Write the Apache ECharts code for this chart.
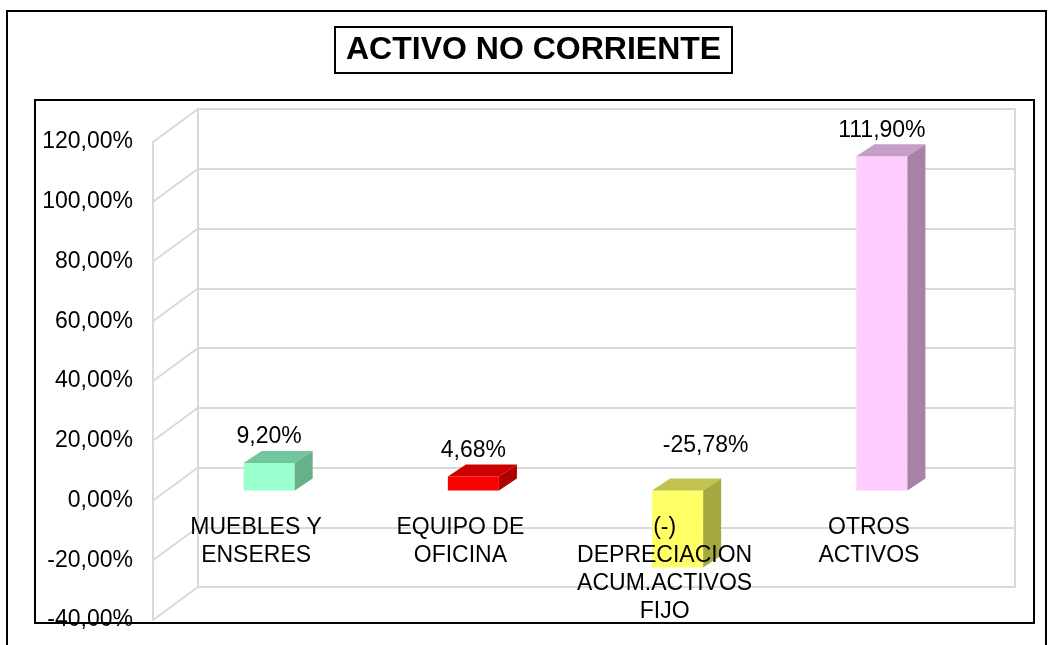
<!DOCTYPE html>
<html>
<head>
<meta charset="utf-8">
<script src="https://cdn.jsdelivr.net/npm/echarts@6/dist/echarts.min.js"></script>
<style>
html,body{margin:0;padding:0;background:#fff;}
#chart{width:1051px;height:645px;}
</style>
</head>
<body>
<div id="chart"></div>
<script>
// ---- data ----
const titleText = 'ACTIVO NO CORRIENTE';
const categories = ['MUEBLES Y\nENSERES', 'EQUIPO DE\nOFICINA', '(-)\nDEPRECIACION\nACUM.ACTIVOS\nFIJO', 'OTROS\nACTIVOS'];
const values = [9.20, 4.68, -25.78, 111.90];
const yTicks = [-40, -20, 0, 20, 40, 60, 80, 100, 120];

// ---- styles ----
const FONT = "'Liberation Sans', Arial, sans-serif";
const LABEL_SIZE = 23;
const frontColors = ['#99FFCC', '#FF0000', '#FFFF66', '#FFCCFF'];
const topColors   = ['#70C79C', '#CC0000', '#C2C24E', '#C69DC6'];
const sideColors  = ['#66B08A', '#B00000', '#A8A840', '#A882A6'];
const GRID_COLOR = '#D9D9D9';
const DEPTH_X = 18, DEPTH_Y = -12;

function pct(v) { return v.toFixed(2).replace('.', ',') + '%'; }

const chart = echarts.init(document.getElementById('chart'), null, {renderer: 'canvas'});

const yMin = yTicks[0], yMax = yTicks[yTicks.length - 1], yStep = yTicks[1] - yTicks[0];
const PLANE_H = 478;
const zeroOffset = -PLANE_H * (0 - yMin) / (yMax - yMin); // lift category axis to the zero level

const option = {
  animation: false,
  backgroundColor: '#fff',
  title: {
    text: titleText,
    left: 335, top: 27,
    borderColor: '#000', borderWidth: 2,
    padding: [4, 11],
    textStyle: {fontSize: 32, fontWeight: 'bold', fontFamily: FONT, color: '#000', lineHeight: 38}
  },
  graphic: [
    {type: 'rect', shape: {x: 7, y: 11, width: 1039, height: 700}, style: {fill: 'none', stroke: '#000', lineWidth: 2}, silent: true, z: -10},
    {type: 'rect', shape: {x: 35, y: 100, width: 999, height: 523}, style: {fill: 'none', stroke: '#000', lineWidth: 2}, silent: true, z: -10}
  ],
  grid: [
    // 0: side wall front edge (labels)
    {left: 153, top: 142, width: 45, height: PLANE_H, outerBoundsMode: 'none', containLabel: false},
    // 1: back wall
    {left: 198, top: 109, width: 817, height: PLANE_H, show: true, borderColor: GRID_COLOR, borderWidth: 2, outerBoundsMode: 'none', containLabel: false},
    // 2: bars front plane
    {left: 167, top: 132, width: 817, height: PLANE_H, outerBoundsMode: 'none', containLabel: false}
  ],
  xAxis: [
    {gridIndex: 0, type: 'value', min: 0, max: 1, show: false},
    {gridIndex: 1, type: 'category', data: categories, show: false},
    {gridIndex: 2, type: 'category', data: categories, z: 10, position: 'bottom', offset: zeroOffset,
      axisLine: {show: false, onZero: false}, axisTick: {show: false},
      axisLabel: {interval: 0, margin: 23, fontSize: LABEL_SIZE, lineHeight: 28, color: '#000', fontFamily: FONT, padding: [0, 26, 0, 0]}}
  ],
  yAxis: [
    {gridIndex: 0, type: 'value', min: yMin, max: yMax, interval: yStep,
      axisLine: {show: true, lineStyle: {color: GRID_COLOR, width: 2}}, axisTick: {show: false},
      splitLine: {show: false},
      axisLabel: {margin: 20, fontSize: LABEL_SIZE, color: '#000', fontFamily: FONT, formatter: pct}},
    {gridIndex: 1, type: 'value', min: yMin, max: yMax, interval: yStep,
      axisLine: {show: false}, axisTick: {show: false}, axisLabel: {show: false},
      splitLine: {show: true, lineStyle: {color: GRID_COLOR, width: 2}}},
    {gridIndex: 2, type: 'value', min: yMin, max: yMax, interval: yStep,
      axisLine: {show: false}, axisTick: {show: false}, axisLabel: {show: false}, splitLine: {show: false}}
  ],
  series: [
    {
      type: 'custom', xAxisIndex: 0, yAxisIndex: 0, silent: true, z: 1,
      data: yTicks.map(v => [0, v]),
      renderItem: function (params, api) {
        const v = api.value(1);
        const a = api.coord([0, v]);
        const b = api.coord([1, v]);
        return {type: 'line', shape: {x1: a[0], y1: a[1], x2: b[0], y2: b[1] - 33},
          style: {stroke: GRID_COLOR, lineWidth: 2}};
      }
    },
    {
      type: 'custom', xAxisIndex: 2, yAxisIndex: 2, silent: true, z: 3,
      data: values.map((v, i) => [i, v]),
      encode: {x: 0, y: 1},
      renderItem: function (params, api) {
        const i = api.value(0), v = api.value(1);
        const p0 = api.coord([i, 0]);
        const p1 = api.coord([i, v]);
        const w = api.size([1, 0])[0] * 0.25;
        const cx = p0[0];
        const l = cx - w / 2, r = cx + w / 2;
        const yt = Math.min(p0[1], p1[1]), yb = Math.max(p0[1], p1[1]);
        let lx, ly;
        if (v >= 0) { lx = cx; ly = yt - 26; }
        else { lx = cx + 28; ly = p0[1] - 45; }
        return {
          type: 'group',
          children: [
            {type: 'rect', shape: {x: l, y: yt, width: w, height: yb - yt}, style: {fill: frontColors[i]}},
            {type: 'polygon', shape: {points: [[l, yt], [r, yt], [r + DEPTH_X, yt + DEPTH_Y], [l + DEPTH_X, yt + DEPTH_Y]]}, style: {fill: topColors[i]}},
            {type: 'polygon', shape: {points: [[r, yt], [r + DEPTH_X, yt + DEPTH_Y], [r + DEPTH_X, yb + DEPTH_Y], [r, yb]]}, style: {fill: sideColors[i]}},
            {type: 'text', style: {text: pct(v), x: lx, y: ly, align: 'center', verticalAlign: 'middle', fontSize: LABEL_SIZE, fontFamily: FONT, fill: '#000'}}
          ]
        };
      }
    }
  ]
};
chart.setOption(option);
</script>
</body>
</html>
